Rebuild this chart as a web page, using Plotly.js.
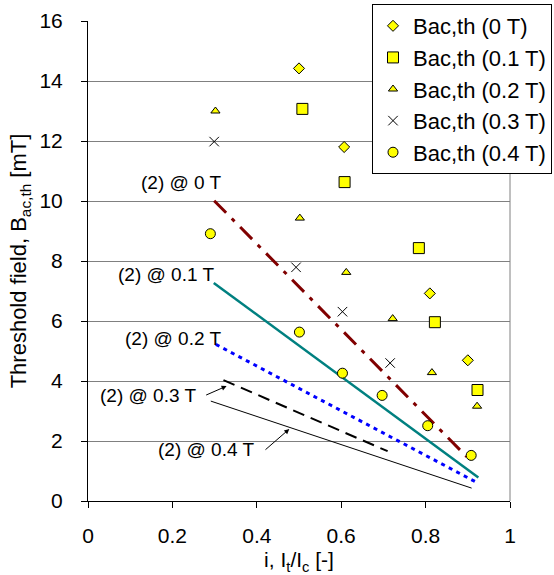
<!DOCTYPE html>
<html>
<head>
<meta charset="utf-8">
<script src="https://cdn.plot.ly/plotly-3.0.1.min.js"></script>
<style>html,body{margin:0;padding:0;background:#fff;}#chart{width:554px;height:575px;}</style>
</head>
<body>
<div id="chart"></div>
<script>
// Measured threshold fields
const series0T_x = [0.500, 0.607, 0.810, 0.900];
const series0T_y = [14.42, 11.80, 6.92, 4.69];
const series01T_x = [0.508, 0.608, 0.784, 0.822, 0.923];
const series01T_y = [13.07, 10.63, 8.43, 5.96, 3.70];
const series02T_x = [0.302, 0.502, 0.612, 0.722, 0.815, 0.922];
const series02T_y = [13.00, 9.43, 7.62, 6.08, 4.28, 3.16];
const series03T_x = [0.299, 0.493, 0.603, 0.716];
const series03T_y = [11.98, 7.79, 6.31, 4.60];
const series04T_x = [0.290, 0.501, 0.603, 0.697, 0.805, 0.908];
const series04T_y = [8.91, 5.63, 4.26, 3.52, 2.51, 1.52];

// Model curves "(2)"
const model0T_x = [0.299, 0.897];
const model0T_y = [10.01, 1.48];
const model01T_x = [0.298, 0.925];
const model01T_y = [7.27, 0.78];
const model02T_x = [0.303, 0.921];
const model02T_y = [5.22, 0.62];
const model03T_x = [0.321, 0.710];
const model03T_y = [4.03, 1.66];
const model04T_x = [0.291, 0.909];
const model04T_y = [3.33, 0.43];

const legendNames = ["Bac,th (0 T)", "Bac,th (0.1 T)", "Bac,th (0.2 T)", "Bac,th (0.3 T)", "Bac,th (0.4 T)"];
const modelLabels = ["(2) @ 0 T", "(2) @ 0.1 T", "(2) @ 0.2 T", "(2) @ 0.3 T", "(2) @ 0.4 T"];

const yellow = "#FFFF00";
const blk = {color: "#000000", width: 1};

const traces = [
  {x: model0T_x, y: model0T_y, mode: "lines", showlegend: false, hoverinfo: "skip",
   line: {color: "#800000", width: 3, dash: "17px,8px,4px,8px"}},
  {x: model01T_x, y: model01T_y, mode: "lines", showlegend: false, hoverinfo: "skip",
   line: {color: "#008080", width: 2.5}},
  {x: model02T_x, y: model02T_y, mode: "lines", showlegend: false, hoverinfo: "skip",
   line: {color: "#0000FF", width: 3, dash: "4px,4.5px"}},
  {x: model03T_x, y: model03T_y, mode: "lines", showlegend: false, hoverinfo: "skip",
   line: {color: "#000000", width: 2, dash: "12px,7px"}},
  {x: model04T_x, y: model04T_y, mode: "lines", showlegend: false, hoverinfo: "skip",
   line: {color: "#000000", width: 1}},
  {x: series0T_x, y: series0T_y, mode: "markers", name: legendNames[0],
   marker: {symbol: "diamond", size: 8.5, color: yellow, line: blk}},
  {x: series01T_x, y: series01T_y, mode: "markers", name: legendNames[1],
   marker: {symbol: "square", size: 11, color: yellow, line: blk}},
  {x: series02T_x, y: series02T_y, mode: "markers", name: legendNames[2],
   marker: {symbol: "triangle-up", size: 8, color: yellow, line: blk}},
  {x: series03T_x, y: series03T_y, mode: "markers", name: legendNames[3],
   marker: {symbol: "x-thin-open", size: 9.5, color: "#000000", line: {color: "#000000", width: 1}}},
  {x: series04T_x, y: series04T_y, mode: "markers", name: legendNames[4],
   marker: {symbol: "circle", size: 10, color: yellow, line: blk}}
];

const F = "'Liberation Sans', Arial, sans-serif";

const ann = (t, x, y) => ({text: t, x: x, y: y, xref: "x", yref: "y", showarrow: false,
  xanchor: "center", yanchor: "middle", font: {family: F, size: 19, color: "#000"}});

const layout = {
  width: 554, height: 575,
  margin: {l: 88, r: 44, t: 21, b: 74, pad: 0, autoexpand: false},
  paper_bgcolor: "#fff", plot_bgcolor: "#fff",
  font: {family: F, color: "#000"},
  showlegend: true,
  legend: {xref: "container", yref: "container", x: 0.9964, xanchor: "right", y: 0.993, yanchor: "top",
    bgcolor: "#fff", bordercolor: "#000", borderwidth: 1,
    font: {family: F, size: 22, color: "#000"}},
  xaxis: {range: [0, 1], dtick: 0.2, tick0: 0, showgrid: false, zeroline: false,
    showline: true, linecolor: "#000", linewidth: 1,
    ticks: "outside", ticklen: 6, tickcolor: "#000",
    tickfont: {family: F, size: 21, color: "#000"}, ticklabelstandoff: 10,
    title: {text: "i, I<sub>t</sub>/I<sub>c</sub> [-]", font: {family: F, size: 21, color: "#000"}, standoff: 6}},
  yaxis: {range: [0, 16], dtick: 2, tick0: 0, showgrid: true, gridcolor: "#808080", gridwidth: 1,
    zeroline: false, showline: true, linecolor: "#000", linewidth: 1,
    ticks: "outside", ticklen: 6, tickcolor: "#000",
    tickfont: {family: F, size: 21, color: "#000"}, ticklabelstandoff: 14,
    title: {text: "Threshold field, B<sub>ac,th</sub> [mT]", font: {family: F, size: 22, color: "#000"}, standoff: 6}},
  shapes: [
    {type: "line", xref: "paper", yref: "paper", x0: 1, x1: 1, y0: 0, y1: 1,
     line: {color: "#808080", width: 1}, layer: "below"}
  ],
  annotations: [
    ann(modelLabels[0], 0.2216, 10.61),
    ann(modelLabels[1], 0.1856, 7.557),
    ann(modelLabels[2], 0.2022, 5.433),
    ann(modelLabels[3], 0.1422, 3.533),
    ann(modelLabels[4], 0.2796, 1.723),
    {text: "", x: 0.3284, y: 3.83, ax: 0.2765, ay: 3.51, xref: "x", yref: "y", axref: "x", ayref: "y",
     showarrow: true, arrowhead: 2, arrowsize: 1, arrowwidth: 1, arrowcolor: "#000"},
    {text: "", x: 0.477, y: 2.40, ax: 0.417, ay: 1.667, xref: "x", yref: "y", axref: "x", ayref: "y",
     showarrow: true, arrowhead: 2, arrowsize: 1, arrowwidth: 1, arrowcolor: "#000"}
  ]
};

Plotly.newPlot("chart", traces, layout, {displayModeBar: false, staticPlot: true});
</script>
</body>
</html>
